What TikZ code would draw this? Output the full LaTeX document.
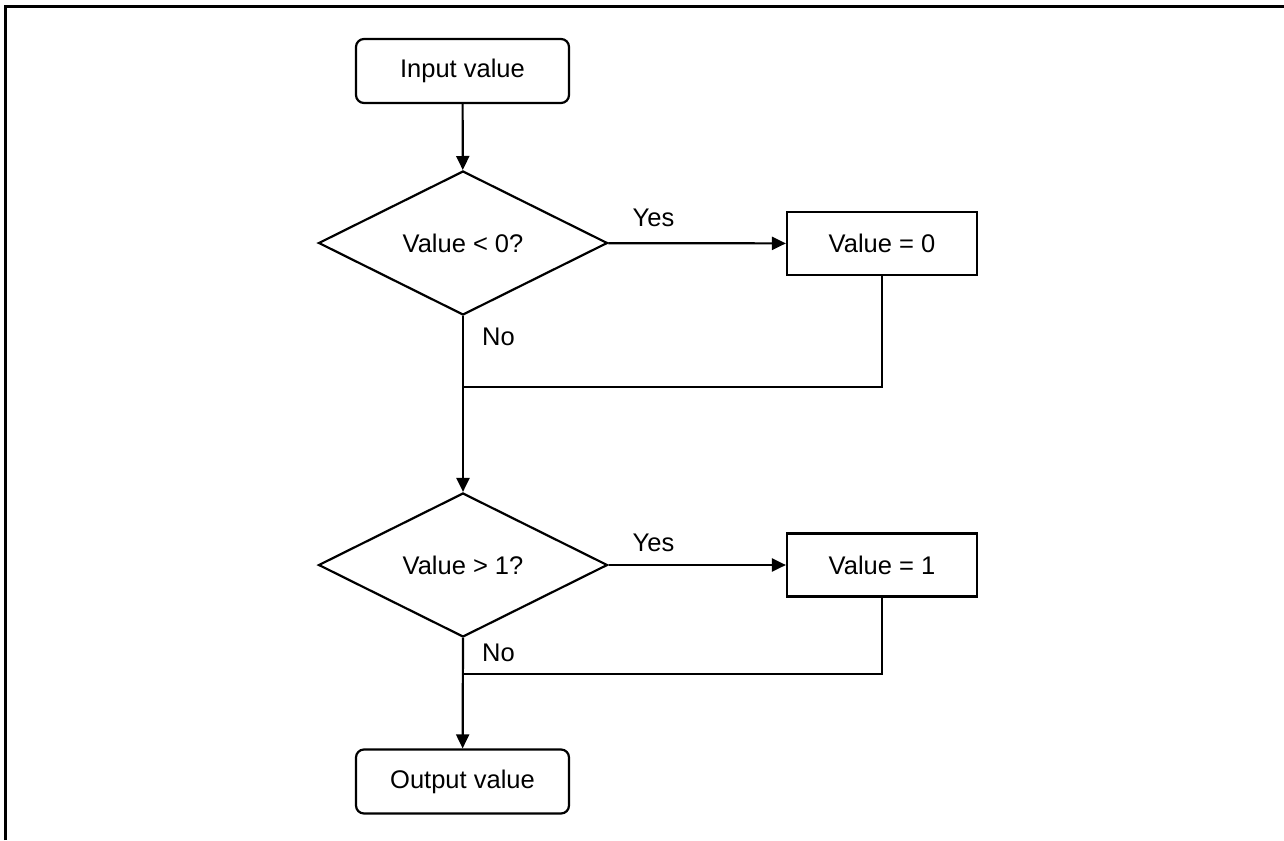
\documentclass[tikz,border=0pt]{standalone}
\usepackage{fontspec}
\setmainfont{Liberation Sans}
\usetikzlibrary{shapes.geometric,arrows.meta}

\begin{document}
\begin{tikzpicture}[x=1pt, y=-1pt, >={Triangle[length=14pt,width=13pt]},
  every node/.style={font=\fontsize{25.5}{30}\selectfont},
  line width=2.2pt,
  term/.style={draw, rounded corners=8pt, minimum width=213pt, minimum height=64pt, inner sep=0pt},
  proc/.style={draw, minimum width=190pt, minimum height=63pt, inner sep=0pt},
  test/.style={draw, diamond, shape aspect=2, minimum width=289pt, minimum height=144pt, inner sep=0pt},
  lbl/.style={inner sep=0pt}]
\useasboundingbox (0,0) rectangle (1284,840);
\draw[line width=3pt] (5.5,840) -- (5.5,6.5) -- (1284,6.5);
% nodes
\node[term] (in) at (462.5,71) {Input value};
\node[test] (d1) at (463,243) {Value < 0?};
\node[proc] (set0) at (882,243.5) {Value = 0};
\node[test] (d2) at (463,565) {Value > 1?};
\node[proc] (set1) at (882,565) {Value = 1};
\node[term] (out) at (462.5,781.5) {Output value};
\coordinate (j1) at (463,387);
\coordinate (j2) at (463,674);
% connectors
\draw[->] (in) -- (d1);
\draw[->] (d1) -- (set0);
\draw (set0.south) |- (j1);
\draw (d1.south) -- (j1);
\draw[->] (j1) -- (d2);
\draw[->] (d2) -- (set1);
\draw (set1.south) |- (j2);
\draw[->] (d2.south) -- (out);
% labels
\node[lbl, anchor=base west] (yes1) at ([xshift=23pt, yshift=17pt]d1.east) {Yes};
\node[lbl, anchor=base west] (no1) at ([xshift=18pt, yshift=-29pt]d1.south) {No};
\node[lbl, anchor=base west] (yes2) at ([xshift=23pt, yshift=14pt]d2.east) {Yes};
\node[lbl, anchor=base west] (no2) at ([xshift=18pt, yshift=-23pt]d2.south) {No};
\end{tikzpicture}
\end{document}
